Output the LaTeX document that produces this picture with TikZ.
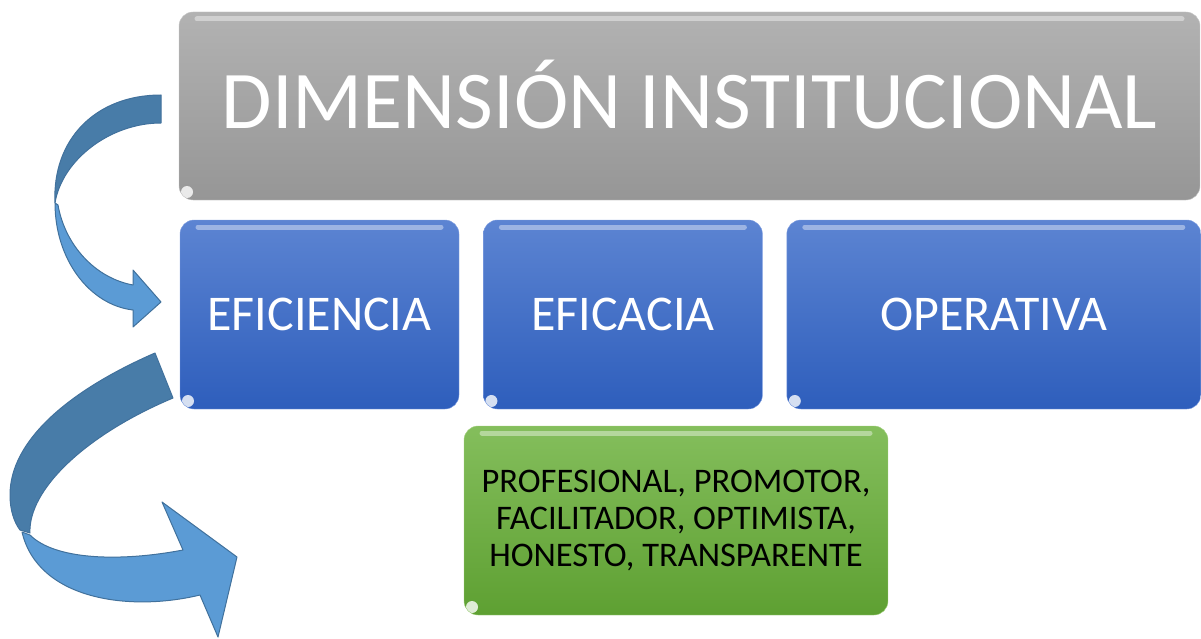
\documentclass[tikz,border=0pt]{standalone}
\usepackage{fontspec}
\setmainfont{Carlito}
\usetikzlibrary{positioning}
\definecolor{arrowback}{RGB}{72,124,168}
\definecolor{arrowfront}{RGB}{91,155,213}
\definecolor{arrowline}{RGB}{65,113,156}
\tikzstyle{gloss} = [path picture={
    \draw[white,opacity=0.4,line width=5pt,line cap=round] ([xshift=18pt,yshift=-7pt]path picture bounding box.north west) -- ([xshift=-18pt,yshift=-7pt]path picture bounding box.north east);
    \fill[white,opacity=0.8] ([xshift=8pt,yshift=8pt]path picture bounding box.south west) circle (6pt);
}]
\tikzstyle{titlebox} = [rectangle,rounded corners=14pt,gloss,inner sep=0pt,
    top color={rgb,255:red,178;green,178;blue,178},bottom color={rgb,255:red,150;green,150;blue,150},
    draw={rgb,255:red,200;green,200;blue,200},
    minimum width=1021pt,minimum height=188pt,text=white,font=\fontsize{82}{90}\selectfont,
    text height=46pt,text depth=0pt]
\tikzstyle{bluebox} = [rectangle,rounded corners=14pt,gloss,inner sep=0pt,
    top color={rgb,255:red,92;green,132;blue,210},bottom color={rgb,255:red,46;green,94;blue,188},
    draw={rgb,255:red,130;green,160;blue,225},
    minimum height=189pt,text=white,font=\fontsize{50}{56}\selectfont]
\tikzstyle{greenbox} = [rectangle,rounded corners=14pt,gloss,inner sep=0pt,align=center,
    top color={rgb,255:red,132;green,190;blue,92},bottom color={rgb,255:red,94;green,160;blue,50},
    draw={rgb,255:red,165;green,210;blue,130},
    minimum width=424pt,minimum height=189pt,text=black,font=\fontsize{34.5}{37}\selectfont]
\tikzstyle{backarrow} = [fill=arrowback,draw=arrowline,line width=1pt,line join=round]
\tikzstyle{frontarrow} = [fill=arrowfront,draw=arrowline,line width=1pt,line join=round]

\begin{document}
\begin{tikzpicture}[x=1pt,y=-1pt]
	\useasboundingbox (0,0) rectangle (1201,639);

	\node(dimension) at (689.5,106) [titlebox] {DIMENSIÓN INSTITUCIONAL};

	\node(eficiencia) at (319.5,314.5) [bluebox,minimum width=279pt] {EFICIENCIA};
	\node(eficacia) [bluebox,minimum width=279pt,right=24pt of eficiencia] {EFICACIA};
	\node(operativa) [bluebox,minimum width=414pt,right=24pt of eficacia] {OPERATIVA};

	\node(cualidades) at (676,520.5) [greenbox] {PROFESIONAL, PROMOTOR,\\FACILITADOR, OPTIMISTA,\\HONESTO, TRANSPARENTE};

	\filldraw[backarrow] (161,95) .. controls (95,95) and (52,140) .. (55,203) .. controls (62,160) and (110,123) .. (161,123) -- cycle;
	\filldraw[frontarrow] (55,203) .. controls (55,260) and (90,305) .. (133,310) -- (133,327) -- (161,302) -- (133,270) -- (133,285) .. controls (95,278) and (65,245) .. (58,205) -- cycle;

	\filldraw[backarrow] (155,353) .. controls (70,390) and (10,440) .. (10,495) .. controls (10,510) and (14,522) .. (20,530) -- (30,533) .. controls (28,490) and (85,435) .. (173,398) -- cycle;
	\filldraw[frontarrow] (22,532) .. controls (38,600) and (130,612) .. (200,595) -- (218,637) -- (237,557) -- (162,502) -- (183,550) .. controls (120,562) and (55,560) .. (30,535) -- cycle;
\end{tikzpicture}
\end{document}
